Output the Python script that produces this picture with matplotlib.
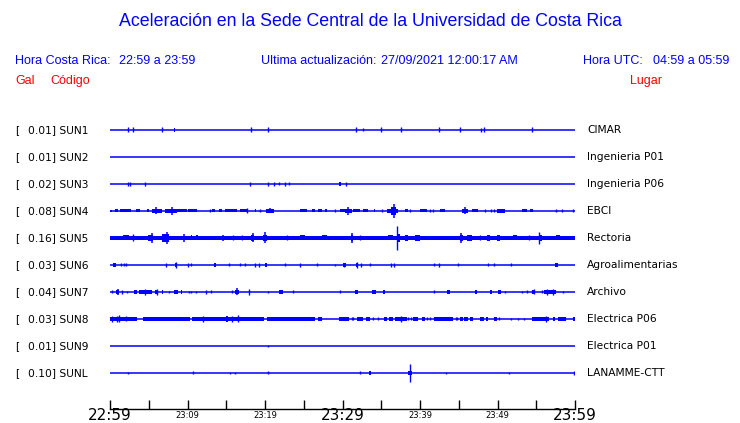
import matplotlib
matplotlib.use("Agg")
import matplotlib.pyplot as plt

# station table
codes = ["SUN1", "SUN2", "SUN3", "SUN4", "SUN5", "SUN6", "SUN7", "SUN8", "SUN9", "SUNL"]
peak_gal = ["0.01", "0.01", "0.02", "0.08", "0.16", "0.03", "0.04", "0.03", "0.01", "0.10"]
places = ["CIMAR", "Ingenieria P01", "Ingenieria P06", "EBCI", "Rectoria",
          "Agroalimentarias", "Archivo", "Electrica P06", "Electrica P01", "LANAMME-CTT"]

# time axis (minutes after 22:59)
start_h, start_m = 22, 59
span_min = 60
tick_step = 5
label_step = 10
big_step = 30

# activity: minutes, amplitude in px
# blocks: (t0, t1, amp)   spikes: (t, amp)   bursts: (t0, tpeak, t1, amp)
blocks = {
    "SUN1": [(8.2, 8.45, 2)],
    "SUN2": [],
    "SUN3": [(29.5, 29.75, 2)],
    "SUN4": [(0.0, 0.3, 1), (0.65, 1.07, 1.5), (1.29, 2.71, 1.5), (3.35, 3.87, 1.5), (4.81, 5.07, 1.5),
             (8.6, 9.9, 1.5), (10.1, 11.2, 1.5), (13.1, 13.6, 1.5), (14.0, 14.4, 1.5), (14.9, 16.35, 1.5),
             (16.8, 17.85, 1.5), (18.7, 18.9, 1.5), (24.5, 25.4, 1.5), (26.0, 26.45, 1.5), (26.9, 27.3, 1.5),
             (27.7, 27.96, 1.5), (29.7, 30.3, 1.5), (31.4, 32.3, 1.5), (32.7, 33.3, 1.5), (34.0, 34.2, 1.5),
             (38.1, 38.5, 1.5), (40.0, 40.9, 1.5), (42.6, 43.2, 1.5), (46.7, 47.5, 1.5), (49.9, 51.0, 2),
             (53.1, 53.8, 1.5), (54.2, 54.6, 1.5)],
    "SUN5": [(0.0, 60.0, 1.8), (1.7, 2.4, 2.5), (10.4, 10.6, 2.5), (11.1, 11.3, 2.5), (24.5, 25.2, 2.5),
             (26.0, 26.9, 2.2), (27.3, 27.96, 2.5), (35.9, 36.5, 2.5), (37.2, 37.4, 4), (38.1, 38.5, 3),
             (39.4, 40.0, 3), (46.0, 46.7, 3), (48.6, 49.0, 3), (49.9, 50.3, 3), (52.0, 52.5, 2.5),
             (55.5, 55.7, 3), (57.6, 58.1, 2.5)],
    "SUN6": [(0.43, 0.73, 2), (8.4, 8.7, 2), (13.45, 13.65, 2), (20.0, 20.25, 2), (30.1, 30.5, 2),
             (31.7, 32.0, 2), (57.4, 57.85, 2)],
    "SUN7": [(3.1, 3.45, 2), (3.8, 5.4, 1.8), (5.8, 6.2, 2), (6.7, 6.9, 2), (8.2, 8.8, 2), (9.2, 9.3, 2),
             (21.8, 22.3, 2), (31.6, 32.05, 2), (33.85, 34.3, 2), (35.2, 35.5, 2), (43.5, 43.9, 2),
             (47.1, 47.4, 2), (49.0, 49.25, 2), (50.0, 50.4, 2), (54.5, 54.8, 2), (56.0, 57.5, 2)],
    "SUN8": [(0.0, 3.44, 2), (4.2, 10.3, 2), (10.6, 19.9, 2), (20.2, 26.45, 2), (26.9, 27.3, 2),
             (29.5, 30.9, 2), (31.9, 32.7, 2), (33.0, 33.6, 2), (35.3, 35.7, 2), (36.0, 36.5, 2),
             (36.8, 38.3, 2), (39.1, 39.8, 2), (40.2, 40.6, 2), (41.8, 44.3, 2), (45.1, 45.5, 2),
             (45.7, 46.2, 2), (46.4, 46.9, 2), (47.7, 48.2, 2), (48.5, 48.8, 2), (49.5, 49.9, 2),
             (54.5, 56.7, 2), (57.1, 57.4, 2), (57.8, 58.9, 2), (59.8, 60.0, 2), (15.0, 15.2, 3)],
    "SUN9": [],
    "SUNL": [(33.4, 33.7, 2), (38.5, 39.0, 2)],
}

spikes = {
    "SUN1": [(2.37, 2.5), (3.0, 2.5), (6.75, 2.5), (18.2, 2.5), (20.4, 2.5), (31.8, 2.5), (32.7, 1.5),
             (35.0, 2.5), (37.6, 2.5), (42.5, 2.5), (45.2, 2.5), (47.9, 2), (48.2, 2.5), (54.5, 2.5)],
    "SUN2": [],
    "SUN3": [(2.37, 2), (2.62, 2), (4.56, 2), (18.1, 2), (20.4, 2), (21.2, 2), (21.8, 1.5), (22.6, 2),
             (23.1, 1.5), (30.5, 2)],
    "SUN4": [(12.9, 1.5), (17.7, 2.5), (19.4, 1.5), (29.0, 1.5), (35.05, 1.5), (38.7, 1.5), (41.3, 1.5),
             (41.7, 1.5), (48.4, 1.5), (49.2, 1.5), (49.5, 1.5), (57.6, 1.5), (58.3, 1.5), (59.8, 1.5)],
    "SUN5": [(3.0, 3.5), (15.9, 2.5), (17.0, 2.5), (22.8, 2.5), (32.3, 2.5), (37.07, 12), (47.7, 2.5),
             (54.1, 2.5), (55.3, 6)],
    "SUN6": [(1.42, 1.5), (1.8, 1.5), (2.1, 1.5), (7.18, 2), (8.5, 3), (10.0, 2), (10.4, 1.5), (15.3, 1.5),
             (16.8, 1.5), (17.4, 1.5), (18.7, 2), (19.2, 2), (22.6, 1.5), (24.5, 2), (26.75, 1.5),
             (29.0, 1), (30.2, 2), (31.85, 3), (32.35, 2), (33.5, 1.5), (36.2, 2), (36.6, 2), (41.85, 1.5),
             (42.45, 2), (44.9, 1.5), (48.8, 1.5), (49.5, 1.5), (51.8, 1.5)],
    "SUN7": [(0.3, 1.5), (1.5, 2), (2.2, 1), (4.5, 3), (6.0, 3), (7.65, 1), (10.2, 1), (10.4, 1), (11.1, 1),
             (12.35, 2), (13.03, 1.5), (15.8, 1.5), (17.9, 3), (20.4, 1), (23.65, 1.5), (29.7, 1.5),
             (41.85, 1.5), (51.0, 1), (53.2, 1), (53.85, 1.5), (54.4, 1.5), (54.65, 2.5), (55.7, 1.5),
             (56.4, 3), (57.1, 3), (58.4, 1)],
    "SUN8": [(0.22, 3), (0.95, 3), (1.2, 3.5), (2.0, 2.5), (12.0, 3), (15.8, 3), (16.5, 3.5), (31.2, 1.5),
             (31.4, 1.5), (33.9, 1.5), (34.6, 1.5), (37.5, 3), (38.5, 1.5), (38.8, 1.5), (40.9, 1.5),
             (41.3, 1.5), (44.6, 1.5), (44.8, 1.5), (50.2, 1.5), (51.8, 1), (52.7, 1), (53.4, 1), (56.2, 3)],
    "SUN9": [(20.4, 1)],
    "SUNL": [(2.37, 1), (10.75, 1.5), (15.5, 1), (16.1, 1), (20.4, 1.5), (32.2, 1.5), (38.75, 9),
             (43.3, 1), (51.5, 1), (59.9, 2)],
}

bursts = {
    "SUN4": [(5.38, 5.9, 6.67, 3.5), (7.1, 7.96, 8.6, 4), (20.1, 20.6, 21.1, 2.5), (30.3, 30.75, 31.2, 4),
             (35.7, 36.7, 37.2, 7), (45.4, 45.8, 46.2, 3.5)],
    "SUN5": [(4.5, 5.38, 5.8, 5), (6.2, 7.3, 7.96, 6), (9.25, 9.6, 9.9, 4), (14.2, 14.6, 15.3, 3),
             (18.1, 18.4, 18.7, 4.5), (19.6, 20.0, 20.4, 5.5), (31.0, 31.2, 31.6, 5), (44.9, 45.3, 45.7, 5)],
    "SUN7": [(0.77, 0.99, 1.16, 3), (16.1, 16.43, 16.7, 3.5)],
}

blue = "#0000ff"
W, H = 740, 423
fig = plt.figure(figsize=(W / 100, H / 100), dpi=100)
fig.patch.set_facecolor("white")

# traces: x in minutes, y in pixel rows
x0_px, x1_px = 110, 575
row0, row_step = 130, 27
ax = fig.add_axes([x0_px / W, 0, (x1_px - x0_px) / W, 1])
ax.set_xlim(0, span_min)
ax.set_ylim(H, 0)
ax.axis("off")

for i, code in enumerate(codes):
    base = row0 + row_step * i
    ax.hlines(base, 0, span_min, color=blue, lw=1.1)
    for t0, t1, a in blocks.get(code, []):
        ax.bar((t0 + t1) / 2, 2 * a, width=max(t1 - t0, 0.13), bottom=base - a, color=blue, linewidth=0)
    for t0, tp, t1, a in bursts.get(code, []):
        # ragged envelope: wide low body, narrower core, spike at the peak
        ax.bar((t0 + t1) / 2, 2 * 1.8, width=t1 - t0, bottom=base - 1.8, color=blue, linewidth=0)
        c0, c1 = (t0 + tp) / 2, (tp + t1) / 2
        ax.bar((c0 + c1) / 2, a * 1.2, width=c1 - c0, bottom=base - a * 0.6, color=blue, linewidth=0)
        ax.vlines(tp, base - a, base + a, color=blue, lw=1.1)
    for t, a in spikes.get(code, []):
        ax.vlines(t, base - a, base + a, color=blue, lw=1.0)

    fig.text(15 / W, 1 - base / H, "[", fontsize=7.7, family="DejaVu Sans", va="center", ha="left")
    fig.text(27.7 / W, 1 - base / H, peak_gal[i] + "] " + code, fontsize=7.7,
             family="DejaVu Sans", va="center", ha="left")
    fig.text(587 / W, 1 - base / H, places[i], fontsize=7.7, family="DejaVu Sans", va="center", ha="left")


def clock(t):
    m = start_h * 60 + start_m + t
    return "%02d:%02d" % ((m // 60) % 24, m % 60)


# time axis: big labels on major ticks, small ones on minor ticks
axis_px = 409
tax = fig.add_axes([x0_px / W, 1 - axis_px / H, (x1_px - x0_px) / W, 0.001])
tax.set_xlim(0, span_min)
tax.set_yticks([])
for s in ["top", "left", "right"]:
    tax.spines[s].set_visible(False)
tax.spines["bottom"].set_linewidth(1.0)
major = list(range(0, span_min + 1, big_step))
minor = [t for t in range(0, span_min + 1, tick_step) if t % big_step != 0]
tax.set_xticks(major)
tax.set_xticklabels([clock(t) for t in major], family="DejaVu Sans", fontsize=11)
tax.set_xticks(minor, minor=True)
tax.set_xticklabels([clock(t) if t % label_step == 0 else "" for t in minor], minor=True,
                    family="DejaVu Sans", fontsize=6)
tax.tick_params(axis="x", which="major", direction="in", length=6.5, width=1.0, pad=-1.0)
tax.tick_params(axis="x", which="minor", direction="in", length=6.5, width=1.0, pad=1.5)

# header texts
hfont = "Liberation Sans"
fig.text(0.5, 1 - 22 / H, "Aceleración en la Sede Central de la Universidad de Costa Rica",
         color=blue, fontsize=12.8, family=hfont, ha="center", va="center")
hy = 1 - 61 / H
fig.text(15 / W, hy, "Hora Costa Rica:", color=blue, fontsize=9, family=hfont, va="center")
fig.text(119 / W, hy, "22:59 a 23:59", color=blue, fontsize=9, family=hfont, va="center")
fig.text(261 / W, hy, "Ultima actualización:", color=blue, fontsize=9, family=hfont, va="center")
fig.text(381 / W, hy, "27/09/2021 12:00:17 AM", color=blue, fontsize=9, family=hfont, va="center")
fig.text(583 / W, hy, "Hora UTC:", color=blue, fontsize=9, family=hfont, va="center")
fig.text(653 / W, hy, "04:59 a 05:59", color=blue, fontsize=9, family=hfont, va="center")
ry = 1 - 81 / H
fig.text(15 / W, ry, "Gal", color="red", fontsize=9, family=hfont, va="center")
fig.text(50 / W, ry, "Código", color="red", fontsize=9, family=hfont, va="center")
fig.text(662 / W, ry, "Lugar", color="red", fontsize=9, family=hfont, va="center", ha="right")

fig.savefig("out.png", dpi=100, facecolor="white")
